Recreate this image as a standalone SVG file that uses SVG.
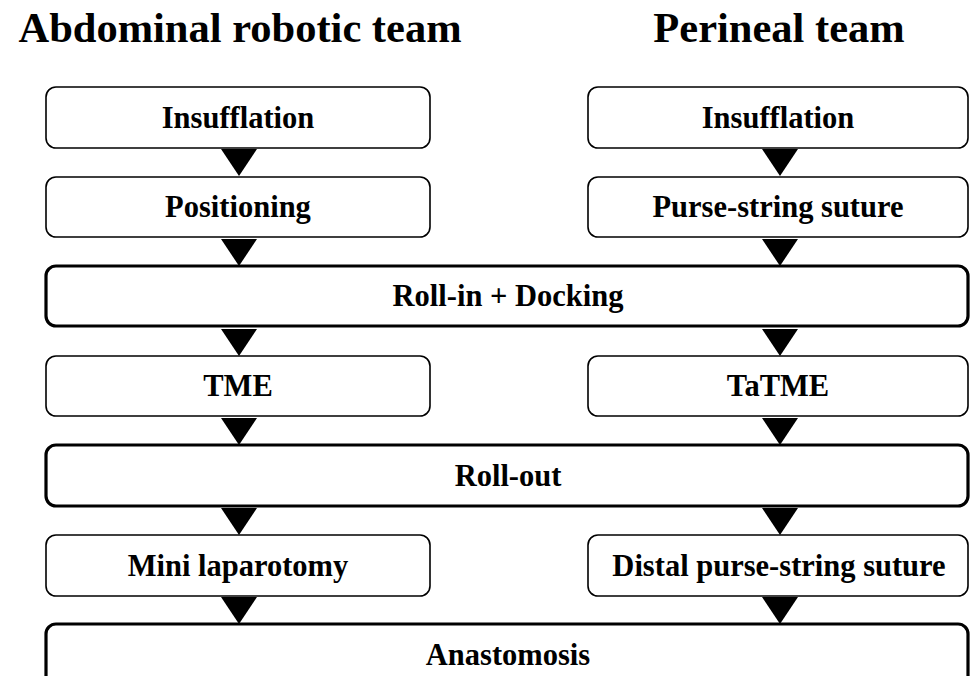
<svg xmlns="http://www.w3.org/2000/svg" width="970" height="676" viewBox="0 0 970 676">
  <style>
    text { font-family: "Liberation Serif", "Times New Roman", serif; font-weight: bold; fill: #000; text-anchor: middle; }
    .title { font-size: 42.5px; }
    .label { font-size: 30.5px; }
    .step { fill: #fff; stroke: #000; stroke-width: 1.6; }
    .joint { fill: #fff; stroke: #000; stroke-width: 3.2; }
    .arrow { fill: #000; stroke: none; }
  </style>
  <defs>
    <!-- downward arrowhead, tip at origin -->
    <polygon id="tri" points="-18,-27 18,-27 0,0"/>
  </defs>
  <rect width="970" height="676" fill="#fff"/>

  <text class="title" x="240" y="42">Abdominal robotic team</text>
  <text class="title" x="779" y="42">Perineal team</text>

  <g id="connectors" class="arrow">
    <use href="#tri" x="239" y="176"/>
    <use href="#tri" x="780" y="176"/>
    <use href="#tri" x="239" y="266"/>
    <use href="#tri" x="780" y="266"/>
    <use href="#tri" x="239" y="356"/>
    <use href="#tri" x="780" y="356"/>
    <use href="#tri" x="239" y="445"/>
    <use href="#tri" x="780" y="445"/>
    <use href="#tri" x="239" y="535"/>
    <use href="#tri" x="780" y="535"/>
    <use href="#tri" x="239" y="624"/>
    <use href="#tri" x="780" y="624"/>
  </g>

  <g id="insufflation-abd">
    <rect class="step" x="46" y="87" width="384" height="61" rx="10"/>
    <text class="label" x="238" y="128">Insufflation</text>
  </g>
  <g id="insufflation-per">
    <rect class="step" x="588" y="87" width="380" height="61" rx="10"/>
    <text class="label" x="778" y="128">Insufflation</text>
  </g>
  <g id="positioning">
    <rect class="step" x="46" y="177" width="384" height="60" rx="10"/>
    <text class="label" x="238" y="217">Positioning</text>
  </g>
  <g id="purse-string">
    <rect class="step" x="588" y="177" width="380" height="60" rx="10"/>
    <text class="label" x="778" y="217">Purse-string suture</text>
  </g>
  <g id="roll-in">
    <rect class="joint" x="46" y="266" width="922" height="60" rx="10"/>
    <text class="label" x="508" y="306">Roll-in + Docking</text>
  </g>
  <g id="tme">
    <rect class="step" x="46" y="356" width="384" height="60" rx="10"/>
    <text class="label" x="238" y="396">TME</text>
  </g>
  <g id="tatme">
    <rect class="step" x="588" y="356" width="380" height="60" rx="10"/>
    <text class="label" x="778" y="396">TaTME</text>
  </g>
  <g id="roll-out">
    <rect class="joint" x="46" y="445" width="922" height="61" rx="10"/>
    <text class="label" x="508" y="486">Roll-out</text>
  </g>
  <g id="mini-laparotomy">
    <rect class="step" x="46" y="535" width="384" height="61" rx="10"/>
    <text class="label" x="238" y="576">Mini laparotomy</text>
  </g>
  <g id="distal-purse-string">
    <rect class="step" x="588" y="535" width="380" height="61" rx="10"/>
    <text class="label" x="779" y="576">Distal purse-string suture</text>
  </g>
  <g id="anastomosis">
    <rect class="joint" x="46" y="624" width="922" height="62" rx="10"/>
    <text class="label" x="508" y="665">Anastomosis</text>
  </g>
</svg>
